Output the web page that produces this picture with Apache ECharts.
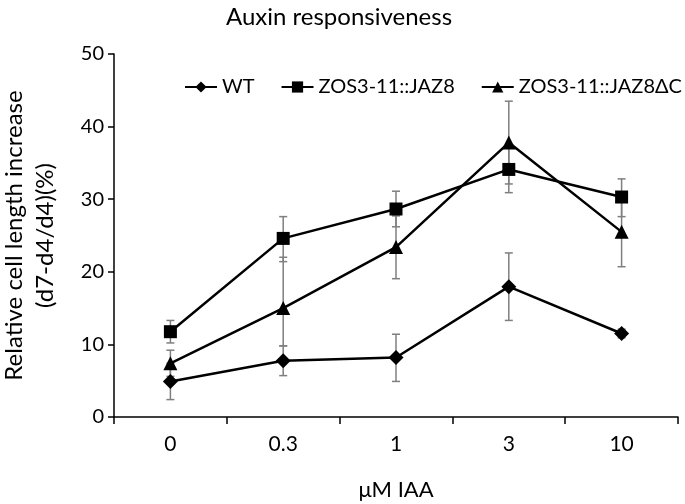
<!DOCTYPE html>
<html>
<head>
<meta charset="utf-8">
<script src="https://cdn.jsdelivr.net/npm/echarts@6/dist/echarts.min.js"></script>
<style>
  html, body { margin: 0; padding: 0; background: #fff; }
  #chart { width: 685px; height: 504px; }
</style>
</head>
<body>
<div id="chart"></div>
<script>
const doses = ['0', '0.3', '1', '3', '10']
const yTicks = [0, 10, 20, 30, 40, 50]

const wt = [4.9, 7.75, 8.2, 17.95, 11.5]
const wtLow = [2.4, 5.7, 4.9, 13.3, 10.9]
const wtHigh = [7.4, 9.8, 11.4, 22.6, 12.1]

const jaz8 = [11.75, 24.6, 28.65, 34.1, 30.3]
const jaz8Low = [10.2, 21.4, 26.2, 30.9, 27.6]
const jaz8High = [13.3, 27.6, 31.1, 37.3, 32.8]

const jaz8dc = [7.4, 15.0, 23.4, 37.8, 25.5]
const jaz8dcLow = [5.6, 9.8, 19.05, 32.1, 20.7]
const jaz8dcHigh = [9.2, 22.0, 27.7, 43.5, 30.3]

const font = 'Lato, "Open Sans", sans-serif'

const errorBars = (low, high) => ({
  type: 'custom',
  silent: true,
  z: 1,
  data: doses.map((d, i) => [i, low[i], high[i]]),
  renderItem: (params, api) => {
    const x = api.value(0)
    const lo = api.coord([x, api.value(1)])
    const hi = api.coord([x, api.value(2)])
    const w = 4
    const style = { stroke: '#7f7f7f', lineWidth: 1.5 }
    return {
      type: 'group',
      children: [
        { type: 'line', shape: { x1: lo[0], y1: lo[1], x2: hi[0], y2: hi[1] }, style },
        { type: 'line', shape: { x1: lo[0] - w, y1: lo[1], x2: lo[0] + w, y2: lo[1] }, style },
        { type: 'line', shape: { x1: hi[0] - w, y1: hi[1], x2: hi[0] + w, y2: hi[1] }, style }
      ]
    }
  }
})

const lineSeries = (name, data, symbol, size) => ({
  name,
  type: 'line',
  data,
  z: 3,
  symbol,
  symbolSize: size,
  showAllSymbol: true,
  lineStyle: { color: '#000', width: 2.5 },
  itemStyle: { color: '#000' }
})

const option = {
  animation: false,
  title: {
    text: 'Auxin responsiveness',
    left: 334,
    textAlign: 'center',
    top: 0,
    textStyle: { fontFamily: font, fontSize: 24, fontWeight: 'normal', color: '#000' }
  },
  legend: {
    data: ['WT', 'ZOS3-11::JAZ8', 'ZOS3-11::JAZ8ΔC'],
    top: 72,
    left: 179,
    width: 506,
    itemWidth: 32,
    itemHeight: 14,
    itemGap: 26,
    textStyle: { fontFamily: font, fontSize: 20, color: '#000' }
  },
  grid: { left: 114, right: 7, top: 54, bottom: 87, outerBoundsMode: 'none' },
  xAxis: {
    type: 'category',
    data: doses,
    boundaryGap: true,
    name: 'μM IAA',
    nameLocation: 'middle',
    nameGap: 62,
    nameTextStyle: { fontFamily: font, fontSize: 22, color: '#000' },
    axisLine: { lineStyle: { color: '#000', width: 1.5 } },
    axisTick: { show: true, length: 7, lineStyle: { color: '#000', width: 1.5 } },
    axisLabel: { fontFamily: font, fontSize: 21, color: '#000', margin: 17 },
    splitLine: { show: false }
  },
  yAxis: {
    type: 'value',
    min: yTicks[0],
    max: yTicks[yTicks.length - 1],
    interval: 10,
    name: 'Relative cell length increase\n(d7-d4/d4)(%)',
    nameLocation: 'middle',
    nameGap: 53,
    nameTextStyle: { fontFamily: font, fontSize: 24, color: '#000', lineHeight: 31 },
    axisLine: { show: true, lineStyle: { color: '#000', width: 1.5 } },
    axisTick: { show: true, length: 6, lineStyle: { color: '#000', width: 1.5 } },
    axisLabel: { fontFamily: font, fontSize: 20, color: '#000', margin: 10 },
    splitLine: { show: false }
  },
  series: [
    errorBars(wtLow, wtHigh),
    errorBars(jaz8Low, jaz8High),
    errorBars(jaz8dcLow, jaz8dcHigh),
    lineSeries('WT', wt, 'diamond', 15),
    lineSeries('ZOS3-11::JAZ8', jaz8, 'rect', 13),
    lineSeries('ZOS3-11::JAZ8ΔC', jaz8dc, 'triangle', 14)
  ]
}

echarts.init(document.getElementById('chart')).setOption(option)
</script>
</body>
</html>
